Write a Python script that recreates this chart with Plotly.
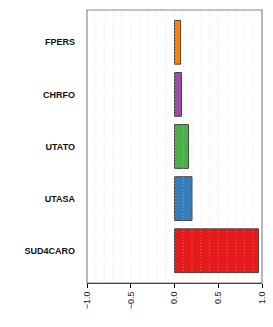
import plotly.graph_objects as go

categories = ["FPERS", "CHRFO", "UTATO", "UTASA", "SUD4CARO"]
values = [0.07, 0.08, 0.16, 0.20, 0.96]
colors = ["#FF7F00", "#984EA3", "#4DAF4A", "#377EB8", "#E41A1C"]
tick_vals = [-1.0, -0.5, 0.0, 0.5, 1.0]
tick_text = ["\u22121.0", "\u22120.5", "0.0", "0.5", "1.0"]
grid_vals = [round(-1 + 0.1 * i, 1) for i in range(1, 20)]

fig = go.Figure()
fig.add_trace(go.Bar(
    x=values, y=categories, orientation="h",
    marker=dict(color=colors, line=dict(color="#444444", width=1)),
    width=0.84,
))

fig.update_layout(
    width=273, height=327,
    margin=dict(l=87, r=11, t=10, b=44, autoexpand=False),
    paper_bgcolor="white", plot_bgcolor="white",
    showlegend=False,
    font=dict(family="Liberation Sans, Arial, sans-serif", color="black"),
)
for gv in grid_vals:
    fig.add_vline(x=gv, line=dict(color="#dcdcdc", width=1, dash="1px,2px"), layer="below")
    fig.add_vline(x=gv, line=dict(color="rgba(255,255,255,0.3)", width=1, dash="1px,2px"), layer="above")
fig.add_shape(type="rect", xref="paper", yref="paper", x0=0, x1=1, y0=0, y1=1,
              line=dict(color="#888888", width=1.2), layer="above")

fig.update_xaxes(
    range=[-1, 1], tickmode="array", tickvals=tick_vals, ticktext=tick_text, tickangle=-90,
    ticks="outside", ticklen=4, tickcolor="black", tickwidth=1,
    showline=True, linecolor="black", linewidth=1, zeroline=False,
    showgrid=False, automargin=False,
    tickfont=dict(size=9, color="#111111"), fixedrange=True,
)
fig.update_yaxes(
    categoryorder="array", categoryarray=categories, autorange=False,
    range=[4.62, -0.62], showgrid=False, zeroline=False, ticks="",
    tickfont=dict(size=9, family="Liberation Sans, Arial, sans-serif", weight="bold", color="#111111"),
    ticklabelstandoff=11, automargin=False,
)

fig.write_html("out.html", config={"displayModeBar": False},
               post_script="document.body.style.margin='0';document.body.style.overflow='hidden';")
